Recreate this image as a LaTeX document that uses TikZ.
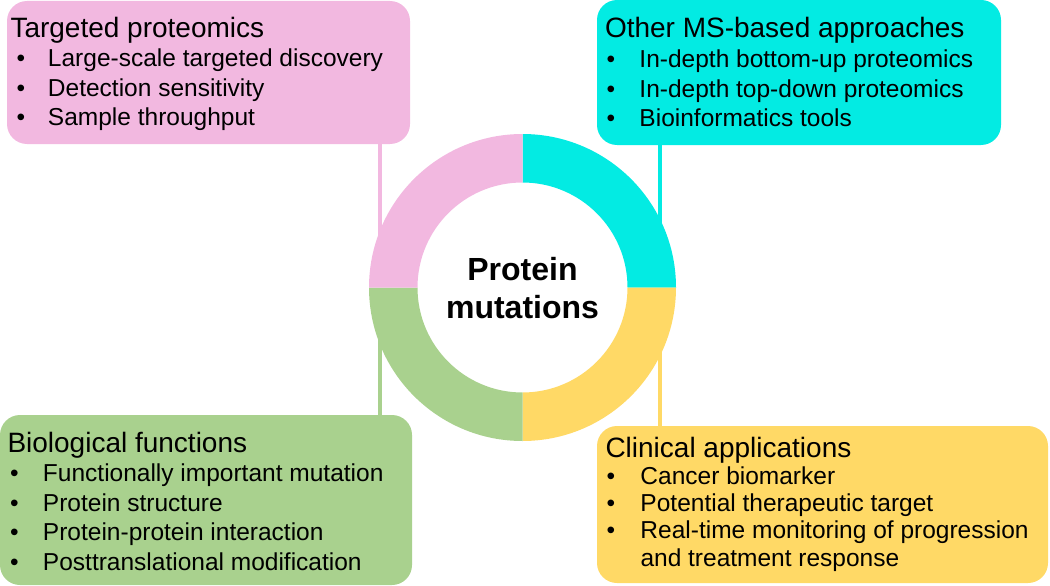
\documentclass[tikz,border=0pt]{standalone}
\usepackage{fontspec}
\setmainfont{Liberation Sans}
\definecolor{pinkc}{HTML}{F2B8E0}
\definecolor{cyanc}{HTML}{03EBE3}
\definecolor{yellowc}{HTML}{FFD966}
\definecolor{greenc}{HTML}{A9D18E}
\newcommand{\myitem}[3]{\makebox[#2][l]{\hspace*{#1}\textbullet}#3}
\newcommand{\mytitle}[1]{{\fontsize{28}{29.5}\selectfont #1}}
\tikzset{
  box/.style={rounded corners=20pt, inner sep=0pt, outer sep=0pt, anchor=north west},
  txt/.style={anchor=base west, inner sep=0pt, outer sep=0pt, font=\fontsize{24.5}{29.5}\selectfont},
  link/.style={line width=4pt},
}
\begin{document}
\begin{tikzpicture}[x=1pt,y=-1pt]
\useasboundingbox (0,0) rectangle (1050,586);
% boxes
\node[box, fill=pinkc, minimum width=403pt, minimum height=143pt] (pbox) at (7,1) {};
\node[box, fill=cyanc, minimum width=404pt, minimum height=145pt] (cbox) at (597,0) {};
\node[box, fill=greenc, minimum width=412pt, minimum height=170pt] (gbox) at (0,415) {};
\node[box, fill=yellowc, minimum width=451pt, minimum height=157pt] (ybox) at (597,426) {};
% connector end points (under the ring)
\coordinate (pend) at (380,260);
\coordinate (cend) at (660,260);
\coordinate (gend) at (380,320);
\coordinate (yend) at (660,320);
\draw[link, pinkc] (pbox.south west -| pend) -- (pend);
\draw[link, cyanc] (cbox.south west -| cend) -- (cend);
\draw[link, greenc] (gbox.north west -| gend) -- (gend);
\draw[link, yellowc] (ybox.north west -| yend) -- (yend);
% ring
\coordinate (c) at (522.5,287.5);
\def\Ro{153.5}
\def\Ri{105}
\fill[cyanc] ([shift={(0:\Ro)}]c) arc[start angle=0,end angle=-90,radius=\Ro] -- ([shift={(-90:\Ri)}]c) arc[start angle=-90,end angle=0,radius=\Ri] -- cycle;
\fill[yellowc] ([shift={(0:\Ro)}]c) arc[start angle=0,end angle=90,radius=\Ro] -- ([shift={(90:\Ri)}]c) arc[start angle=90,end angle=0,radius=\Ri] -- cycle;
\fill[greenc] ([shift={(90:\Ro)}]c) arc[start angle=90,end angle=180,radius=\Ro] -- ([shift={(180:\Ri)}]c) arc[start angle=180,end angle=90,radius=\Ri] -- cycle;
\fill[pinkc] ([shift={(180:\Ro)}]c) arc[start angle=180,end angle=270,radius=\Ro] -- ([shift={(270:\Ri)}]c) arc[start angle=270,end angle=180,radius=\Ri] -- cycle;
\node[anchor=base, inner sep=0pt, font=\bfseries\fontsize{32}{38}\selectfont] (center) at (522.5,280)
  {\begin{tabular}[t]{@{}c@{}}Protein\\mutations\end{tabular}};
% texts
\node[txt] (ptxt) at (10.5,37.5) {\begin{tabular}[t]{@{}l@{}}\mytitle{Targeted proteomics}\\
  \myitem{6pt}{37.5pt}{Large-scale targeted discovery}\\
  \myitem{6pt}{37.5pt}{Detection sensitivity}\\
  \myitem{6pt}{37.5pt}{Sample throughput}\end{tabular}};
\node[txt] (ctxt) at (605,38) {\begin{tabular}[t]{@{}l@{}}\mytitle{Other MS-based approaches}\\
  \myitem{1.6pt}{34.5pt}{In-depth bottom-up proteomics}\\
  \myitem{1.6pt}{34.5pt}{In-depth top-down proteomics}\\
  \myitem{1.6pt}{34.5pt}{Bioinformatics tools}\end{tabular}};
\node[txt] (gtxt) at (7.5,452) {\begin{tabular}[t]{@{}l@{}}\mytitle{Biological functions}\\
  \myitem{2.5pt}{35.5pt}{Functionally important mutation}\\
  \myitem{2.5pt}{35.5pt}{Protein structure}\\
  \myitem{2.5pt}{35.5pt}{Protein-protein interaction}\\
  \myitem{2.5pt}{35.5pt}{Posttranslational modification}\end{tabular}};
\node[txt, font=\fontsize{24.5}{27.3}\selectfont] (ytxt) at (605.5,457) {\begin{tabular}[t]{@{}l@{}}\mytitle{Clinical applications}\\
  \myitem{1pt}{35pt}{Cancer biomarker}\\
  \myitem{1pt}{35pt}{Potential therapeutic target}\\
  \myitem{1pt}{35pt}{Real-time monitoring of progression}\\
  \hspace*{35pt}and treatment response\end{tabular}};
\end{tikzpicture}
\end{document}
